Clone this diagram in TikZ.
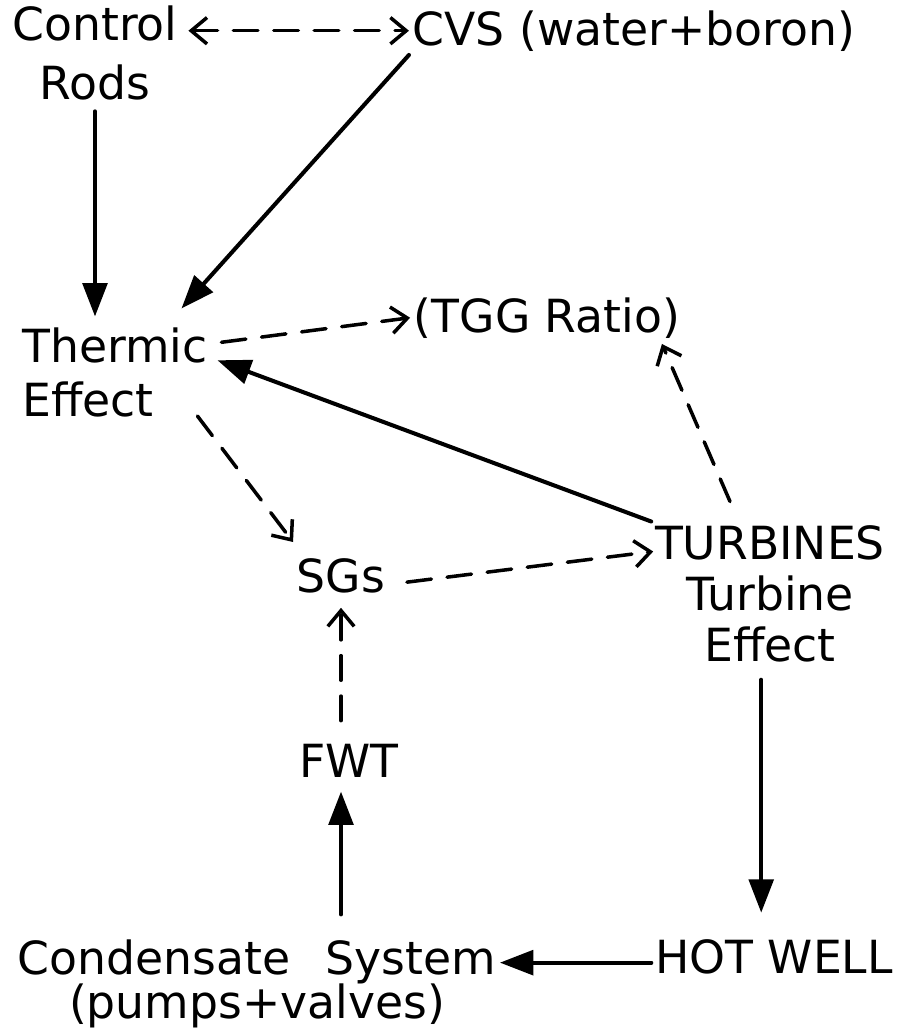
\documentclass[tikz,border=0pt]{standalone}
\usepackage{fontspec}
\setmainfont{DejaVu Sans}
\usetikzlibrary{arrows.meta,calc}

\begin{document}
\begin{tikzpicture}[x=0.02cm,y=-0.02cm,
	box/.style={inner sep=2pt,font=\fontsize{26}{30}\selectfont},
	solidarr/.style={line width=2.3pt,line cap=round,-{Triangle[length=19pt,width=14pt]}},
	dasharr/.style={line width=2pt,line cap=round,dash pattern=on 14pt off 9pt,>={Straight Barb[length=9pt,width=15pt,line width=2pt]},->}]
	\useasboundingbox (0,0) rectangle (904,1031);

	\node[box,align=center,anchor=north] (rods) at (95,1.5) {Control\\[4pt]Rods};
	\node[box,anchor=north] (cvs) at (634,6.5) {CVS (water+boron)};
	\node[box,align=left,anchor=north west] (thermic) at (18.5,323.5) {Thermic\\[1pt]Effect};
	\node[box,anchor=north] (tgg) at (547,293.5) {(TGG Ratio)};
	\node[box,anchor=north] (sgs) at (341,555) {SGs};
	\node[box,align=center,anchor=north] (turb) at (770,521.5) {TURBINES\\[-1pt]Turbine\\[-1pt]Effect};
	\node[box,anchor=north] (fwt) at (349,740) {FWT};
	\node[box,align=center,anchor=north] (cond) at (257,935.5) {Condensate\hspace{0.45em} System\\[-4.5pt](pumps+valves)};
	\node[box,anchor=north] (hotwell) at (774,935.5) {HOT WELL};

	\draw[dasharr,<->,shorten <=4pt] (rods.east |- cvs.west) -- (cvs.west);
	\draw[solidarr] (cvs.south west) -- ($(thermic.north east)+(-30,-15)$);
	\draw[solidarr,shorten <=4pt,shorten >=4pt] (rods.south) -- (rods.south |- thermic.north);
	\draw[dasharr] ($(thermic.east)+(10,-30)$) -- (tgg.west);
	\draw[solidarr] (turb.north west) -- ($(thermic.east)+(6,-12)$);
	\draw[dasharr] ($(thermic.south east)+(-14,-5)$) -- ($(sgs.north west)+(0,-13)$);
	\draw[dasharr] ($(sgs.east)+(18,6)$) -- ($(turb.north west)+(2,30)$);
	\draw[dasharr] ($(turb.north)+(-40,-20)$) -- ($(tgg.south east)+(-22,2)$);
	\draw[dasharr,shorten <=11pt,shorten >=6pt] (sgs.south |- fwt.north) -- (sgs.south);
	\draw[solidarr,shorten <=12pt,shorten >=6pt] (sgs.south |- cond.north) -- (sgs.south |- fwt.south);
	\draw[solidarr,shorten <=8pt,shorten >=13pt] ([xshift=-5pt]turb.south) -- ([xshift=-5pt]turb.south |- hotwell.north);
	\draw[solidarr] ($(hotwell.west)+(0,6)$) -- ($(hotwell.west -| cond.east)+(0,6)$);
\end{tikzpicture}
\end{document}
